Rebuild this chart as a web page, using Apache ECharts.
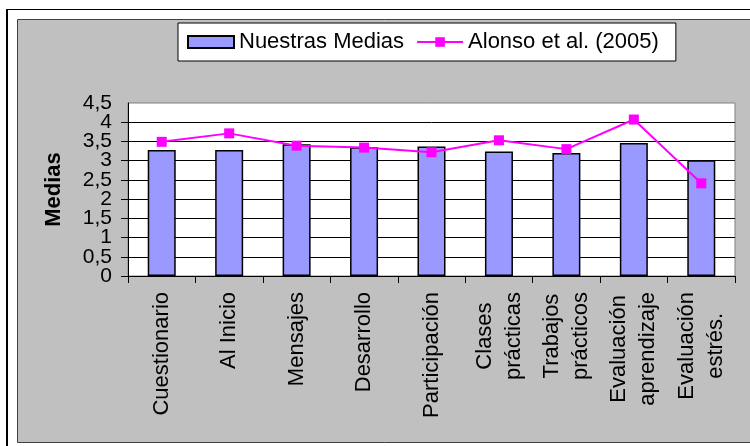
<!DOCTYPE html>
<html>
<head>
<meta charset="utf-8">
<script src="https://cdn.jsdelivr.net/npm/echarts@6/dist/echarts.min.js"></script>
<style>
  html, body { margin: 0; padding: 0; background: #ffffff; }
  #chart { width: 750px; height: 446px; }
</style>
</head>
<body>
<div id="chart"></div>
<script>
const categories = ['Cuestionario', 'Al Inicio', 'Mensajes', 'Desarrollo', 'Participación',
  'Clases\nprácticas', 'Trabajos\nprácticos', 'Evaluación\naprendizaje', 'Evaluación\nestrés.'];
const nuestrasMedias = [3.28, 3.28, 3.43, 3.35, 3.37, 3.24, 3.20, 3.46, 3.01];
const alonso2005 = [3.49, 3.71, 3.39, 3.34, 3.22, 3.53, 3.30, 4.07, 2.41];
const yTickLabels = ['0', '0,5', '1', '1,5', '2', '2,5', '3', '3,5', '4', '4,5'];
const seriesNames = ['Nuestras Medias', 'Alonso et al. (2005)'];
const yAxisTitle = 'Medias';

const FONT = '"Liberation Sans", Arial, sans-serif';
const chart = echarts.init(document.getElementById('chart'), null, { renderer: 'canvas' });

// Tick labels are split over two overlaid axes (even / odd ticks) so that
// ECharts does not drop any of them for crowding.
function tickLabel(parity) {
  return function (v) {
    const i = Math.round(v / 0.5);
    return (i % 2 === parity) ? yTickLabels[i] : '';
  };
}
const yLabelStyle = { margin: 16, fontSize: 21, fontFamily: FONT, color: '#000' };

chart.setOption({
  backgroundColor: '#ffffff',
  animation: false,
  graphic: [
    { type: 'rect', z: -10, shape: { x: 17.5, y: 19.5, width: 740, height: 423 },
      style: { fill: '#c0c0c0', stroke: '#404040', lineWidth: 1 } },
    { type: 'line', z: -10, shape: { x1: 7, y1: 9, x2: 7, y2: 446 },
      style: { stroke: '#000', lineWidth: 2 } },
    { type: 'line', z: -10, shape: { x1: 6, y1: 9.5, x2: 750, y2: 9.5 },
      style: { stroke: '#000', lineWidth: 1 } }
  ],
  legend: {
    left: 178, top: 23,
    padding: [8, 17, 8, 9],
    backgroundColor: '#ffffff',
    borderColor: '#000000',
    borderWidth: 1,
    itemGap: 12,
    itemWidth: 46,
    itemHeight: 12,
    textStyle: { fontSize: 22, fontFamily: FONT, color: '#000' },
    data: [{ name: seriesNames[0], icon: 'rect' }, { name: seriesNames[1] }]
  },
  grid: {
    left: 128, top: 103, width: 607, height: 173,
    show: true, backgroundColor: '#ffffff', borderColor: '#808080', borderWidth: 1,
    containLabel: false, outerBoundsMode: 'none'
  },
  xAxis: {
    type: 'category',
    data: categories,
    boundaryGap: true,
    axisLine: { lineStyle: { color: '#000', width: 1 } },
    axisTick: { show: true, length: 7, lineStyle: { color: '#000' } },
    axisLabel: {
      rotate: 90, margin: 16, interval: 0,
      fontSize: 22, fontFamily: FONT, color: '#000', lineHeight: 28,
      formatter: function (v) {
        if (v.indexOf('\n') < 0) return v;
        return v.split('\n').map(function (s) { return '{c|' + s + '}'; }).join('\n');
      },
      rich: { c: { align: 'center', fontSize: 22, fontFamily: FONT, color: '#000', lineHeight: 29 } }
    },
    splitLine: { show: false }
  },
  yAxis: [
    {
      type: 'value',
      min: 0, max: 4.5, interval: 0.5,
      position: 'left',
      name: yAxisTitle,
      nameLocation: 'middle',
      nameGap: 63,
      nameTextStyle: { fontSize: 22, fontWeight: 'bold', fontFamily: FONT, color: '#000' },
      axisLine: { show: true, lineStyle: { color: '#000', width: 1 } },
      axisTick: { show: true, length: 7, lineStyle: { color: '#000' } },
      axisLabel: Object.assign({ showMinLabel: true, showMaxLabel: false, formatter: tickLabel(0) }, yLabelStyle),
      splitLine: { show: true, showMaxLine: false, lineStyle: { color: '#000', width: 1 } }
    },
    {
      type: 'value',
      min: 0, max: 4.5, interval: 0.5,
      position: 'left', offset: 0,
      axisLine: { show: false },
      axisTick: { show: false },
      splitLine: { show: false },
      axisLabel: Object.assign({ showMinLabel: false, showMaxLabel: true, formatter: tickLabel(1) }, yLabelStyle)
    }
  ],
  series: [
    {
      name: seriesNames[0], type: 'bar', data: nuestrasMedias, barWidth: 28, yAxisIndex: 0,
      itemStyle: { color: '#9999ff', borderColor: '#000', borderWidth: 1.5 }
    },
    {
      name: seriesNames[1], type: 'line', data: alonso2005, yAxisIndex: 0,
      symbol: 'rect', symbolSize: 10,
      lineStyle: { color: '#ff00ff', width: 2 },
      itemStyle: { color: '#ff00ff' }
    }
  ]
});
</script>
</body>
</html>
